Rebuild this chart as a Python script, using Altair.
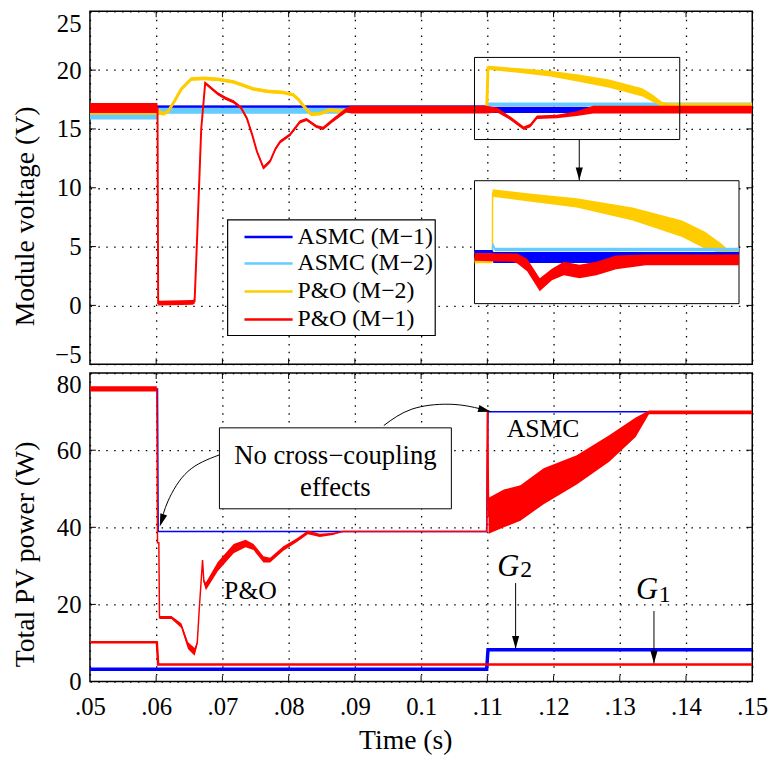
import altair as alt
import pandas as pd

FONT = "Liberation Serif"

# ---------------- axes ----------------
X_TICKS = [0.05, 0.06, 0.07, 0.08, 0.09, 0.10, 0.11, 0.12, 0.13, 0.14, 0.15]
X_LABELS = [".05", ".06", ".07", ".08", ".09", "0.1", ".11", ".12", ".13", ".14", ".15"]
V_TICKS = [-5, 0, 5, 10, 15, 20, 25]
P_TICKS = [0, 20, 40, 60, 80]

SERIES = ["ASMC (M−1)", "ASMC (M−2)", "P&O (M−2)", "P&O (M−1)"]
COLORS = ["#0000FF", "#66CCFF", "#FFCC00", "#FF0000"]

# ---------------- top panel: module voltage (time, centre, half-spread) ----------------
BLUE_T_X = [0.05, 0.1099, 0.1101, 0.15]
BLUE_T_M = [16.9, 16.9, 16.62, 16.62]
BLUE_T_H = [0.1, 0.1, 0.27, 0.27]

CYAN_T_X = [0.05, 0.0601, 0.0602, 0.088, 0.089, 0.1099, 0.1101, 0.15]
CYAN_T_M = [16.2, 16.2, 16.55, 16.55, 16.65, 16.65, 17.1, 17.1]
CYAN_T_H = [0.4, 0.4, 0.25, 0.25, 0.15, 0.15, 0.15, 0.15]

YEL_T_X = [0.05, 0.0602, 0.0612, 0.0618, 0.0628, 0.0638, 0.0653, 0.0673, 0.0695, 0.0717,
           0.0747, 0.0767, 0.0792, 0.0807, 0.0815, 0.0822, 0.0834, 0.0847, 0.0862, 0.088,
           0.1099, 0.1101, 0.1150, 0.1195, 0.1240, 0.1284, 0.1334, 0.1350, 0.1364, 0.1375, 0.15]
YEL_T_M = [16.45, 16.45, 16.3, 16.5, 17.4, 18.4, 19.25, 19.3, 19.2, 19.0,
           18.4, 18.2, 18.1, 17.9, 17.5, 17.0, 16.25, 16.3, 16.6, 16.5,
           16.5, 20.2, 19.95, 19.7, 19.3, 18.85, 18.1, 17.6, 17.1, 17.0, 17.0]
YEL_T_H = [0.25, 0.25, 0.15, 0.15, 0.15, 0.15, 0.15, 0.15, 0.15, 0.15,
           0.15, 0.15, 0.15, 0.15, 0.15, 0.15, 0.15, 0.15, 0.15, 0.15,
           0.15, 0.17, 0.2, 0.25, 0.3, 0.35, 0.35, 0.3, 0.2, 0.2, 0.2]

RED_T_X = [0.05, 0.0602, 0.0603, 0.0655, 0.0658, 0.0662, 0.0668, 0.0674, 0.0693, 0.0705,
           0.0717, 0.0728, 0.0737, 0.0745, 0.0752, 0.0762, 0.0772, 0.0780, 0.0787, 0.0802,
           0.0817, 0.0827, 0.0842, 0.0852, 0.0867, 0.0887, 0.0895, 0.1099, 0.1115, 0.1135,
           0.1155, 0.1165, 0.1175, 0.1205, 0.1235, 0.1260, 0.15]
RED_T_M = [16.78, 16.78, 0.2, 0.25, 0.35, 6.0, 15.0, 18.9, 18.0, 17.6,
           17.3, 16.8, 15.9, 14.5, 13.1, 11.7, 12.25, 13.3, 13.9, 14.5,
           15.6, 15.8, 15.2, 15.05, 15.75, 16.6, 16.65, 16.65, 16.6, 15.9,
           15.06, 15.3, 16.0, 16.05, 16.3, 16.65, 16.65]
RED_T_H = [0.42, 0.42, 0.2, 0.2, 0.2, 0.0, 0.0, 0.12, 0.13, 0.13,
           0.13, 0.13, 0.13, 0.13, 0.13, 0.15, 0.15, 0.13, 0.13, 0.13,
           0.13, 0.13, 0.13, 0.13, 0.15, 0.2, 0.33, 0.33, 0.2, 0.15,
           0.15, 0.15, 0.15, 0.15, 0.2, 0.33, 0.33]

# legend (top panel, data units)
LEG_BOX = {"t": [0.07079], "t2": [0.10213], "v": [-2.56], "v2": [7.27]}
LEG_ROW_V = [5.82, 3.57, 1.19, -1.19]
LEG_SYM_T = [0.07333, 0.0806]
LEG_TXT_T = 0.08134

# ---------------- inset (zoom of 0.108-0.139 s, 14-21 V) ----------------
INSET_DOM_T = [0.108, 0.139]
INSET_DOM_V = [14.0, 21.0]
INSET_BOX_T = [0.10806, 0.1480]    # where the inset sits, in main-panel units
INSET_BOX_V = [0.15, 10.6]
ZOOM_BOX_T = [0.10806, 0.13905]
ZOOM_BOX_V = [14.1, 21.08]
ZOOM_ARROW = {"t": [0.12388], "v": [14.1], "v2": [10.63]}

YEL_I_X = [0.108, 0.1101, 0.11012, 0.11417, 0.11997, 0.12653, 0.13233, 0.13503, 0.13696, 0.1377, 0.139]
YEL_I_M = [16.45, 16.45, 20.3, 20.06, 19.74, 19.1, 18.26, 17.61, 17.13, 16.96, 17.08]
YEL_I_H = [0.15, 0.15, 0.21, 0.23, 0.26, 0.37, 0.47, 0.48, 0.28, 0.12, 0.11]

CYAN_I_X = [0.108, 0.1101, 0.11015, 0.1104, 0.139]
CYAN_I_M = [16.95, 16.95, 17.4, 17.08, 17.08]
CYAN_I_H = [0.08, 0.08, 0.08, 0.1, 0.1]

BLUE_I_X = [0.108, 0.1101, 0.1102, 0.139]
BLUE_I_M = [16.95, 16.95, 16.63, 16.63]
BLUE_I_H = [0.1, 0.1, 0.31, 0.31]

RED_I_X = [0.108, 0.1125, 0.11302, 0.11417, 0.11565, 0.11707, 0.11847, 0.12031, 0.12228, 0.1246, 0.12808, 0.139]
RED_I_M = [16.66, 16.62, 16.57, 16.2, 15.07, 15.66, 16.0, 15.83, 16.0, 16.35, 16.49, 16.49]
RED_I_H = [0.22, 0.24, 0.28, 0.36, 0.37, 0.33, 0.39, 0.39, 0.39, 0.39, 0.31, 0.31]

# ---------------- bottom panel: total PV power ----------------
BLUE_B_X = [0.05, 0.0602, 0.0603, 0.1099, 0.1101, 0.15]
BLUE_B_M = [75.9, 75.9, 38.9, 38.9, 70.0, 70.0]

RED_B_X = [0.05, 0.0601, 0.0602, 0.0604, 0.0605, 0.0623, 0.0638, 0.0648, 0.0658, 0.0662,
           0.0665, 0.0670, 0.0672, 0.0675, 0.0693, 0.0717, 0.0735, 0.0747, 0.0762, 0.0772,
           0.0792, 0.0812, 0.0829, 0.0847, 0.0867, 0.0882, 0.1099, 0.1100, 0.11005, 0.1102,
           0.1125, 0.1150, 0.1185, 0.1235, 0.1284, 0.1324, 0.1344, 0.15]
RED_B_M = [75.9, 75.9, 36.0, 36.0, 16.6, 16.6, 14.5, 9.35, 7.7, 10.0,
           18.7, 31.5, 26.0, 24.7, 29.8, 34.5, 35.8, 34.9, 31.7, 31.5,
           34.5, 36.6, 38.7, 37.9, 38.3, 38.9, 38.9, 70.0, 70.0, 43.0,
           44.9, 46.3, 50.65, 54.9, 60.45, 65.95, 69.8, 69.8]
RED_B_H = [0.7, 0.7, 0.0, 0.0, 0.4, 0.4, 0.6, 0.9, 1.0, 0.5,
           0.0, 0.0, 0.5, 1.0, 1.2, 1.2, 1.0, 0.8, 0.8, 0.6,
           0.6, 0.5, 0.5, 0.4, 0.3, 0.0, 0.0, 0.0, 0.0, 4.7,
           4.9, 4.6, 4.65, 3.8, 3.45, 2.55, 0.5, 0.5]

G1_X = [0.05, 0.0601, 0.0603, 0.15]
G1_M = [10.2, 10.2, 4.4, 4.4]
G2_X = [0.05, 0.1099, 0.1101, 0.15]
G2_M = [3.2, 3.2, 8.25, 8.25]

NOTE_BOX = {"t": [0.06955], "t2": [0.10457], "p": [44.8], "p2": [65.8]}
NOTE_TEXT = {"t": [0.08706, 0.08706], "p": [58.6, 50.2], "txt": ["No cross−coupling", "effects"]}
ARROW1 = {"t": [0.06949, 0.06478, 0.06179, 0.06069], "p": [58.75, 54.48, 46.82, 40.87]}
ARROW2 = {"t": [0.09437, 0.0986, 0.10407, 0.10806, 0.11054], "p": [66.41, 70.65, 71.93, 71.09, 69.99]}
LABELS = {"t": [0.07424, 0.11841], "p": [23.4, 65.5], "txt": ["P&O", "ASMC"]}
G_LET = {"t": [0.11315, 0.13412], "p": [29.8, 23.83], "txt": ["G", "G"]}
G_SUB = {"t": [0.11587, 0.13679], "p": [28.94, 22.55], "txt": ["2", "1"]}
G_ARROWS = {"t": [0.11427, 0.13516], "p": [25.54, 18.29], "p2": [8.5, 4.67]}
HEADS_B = {"t": [0.06054, 0.11054, 0.11427, 0.13516], "p": [40.2, 69.99, 8.5, 4.67], "a": [18, 284.5, 0, 0]}
HEADS_T = {"t": [0.12388], "v": [10.63], "a": [0]}

ARROW_PATH = "M0,0L-0.5,-1.8L0.5,-1.8Z"
W = 670
H_TOP = 357
H_BOT = 312
TICK_LEN = 6


def frame(t, mid, half=None):
    half = half if half is not None else [0.0] * len(t)
    df = pd.DataFrame({"t": t, "mid": mid, "half": half})
    df["lo"] = df["mid"] - df["half"]
    df["hi"] = df["mid"] + df["half"]
    df["i"] = range(len(df))
    return df


def to_inset(df):
    kt = (INSET_BOX_T[1] - INSET_BOX_T[0]) / (INSET_DOM_T[1] - INSET_DOM_T[0])
    kv = (INSET_BOX_V[1] - INSET_BOX_V[0]) / (INSET_DOM_V[1] - INSET_DOM_V[0])
    out = df.copy()
    out["t"] = INSET_BOX_T[0] + (df["t"] - INSET_DOM_T[0]) * kt
    for c in ["mid", "lo", "hi"]:
        out[c] = INSET_BOX_V[0] + (df[c] - INSET_DOM_V[0]) * kv
    return out


XS = alt.Scale(domain=[0.05, 0.15], nice=False, zero=False)
VS = alt.Scale(domain=[-5, 25], nice=False, zero=False)
PS = alt.Scale(domain=[0, 80], nice=False, zero=False)

label_expr = "[" + ",".join("'%s'" % s for s in X_LABELS) + "][round((datum.value - 0.05) * 100)]"

AX_TOP_X = alt.Axis(values=X_TICKS, labels=False, ticks=False, domain=False, grid=True, title=None)
AX_BOT_X = alt.Axis(values=X_TICKS, labelExpr=label_expr, ticks=False, domain=False, grid=True,
                    labelFlush=False, title="Time (s)", titleX=319, titleY=46, labelPadding=13)
AX_TOP_Y = alt.Axis(
    values=V_TICKS, labelFlush=False, ticks=False, domain=False, grid=True,
    labelBaseline={"condition": {"test": "datum.value == %d" % V_TICKS[-1], "value": "top"}, "value": "middle"},
    labelOffset={"condition": {"test": "datum.value == %d" % V_TICKS[0], "value": -10}, "value": 0},
    title="Module voltage (V)", titleX=-51, titleY=207, labelPadding=9)
AX_BOT_Y = alt.Axis(
    values=P_TICKS, labelFlush=False, ticks=False, domain=False, grid=True,
    labelBaseline={"condition": {"test": "datum.value == %d" % P_TICKS[-1], "value": "top"}, "value": "middle"},
    title="Total PV power (W)", titleX=-51, titleY=183, labelPadding=9)


def xt(f="t"):
    return alt.X(f + ":Q", scale=XS, axis=AX_TOP_X)


def yt(f):
    return alt.Y(f + ":Q", scale=VS, axis=AX_TOP_Y)


def xb(f="t"):
    return alt.X(f + ":Q", scale=XS, axis=AX_BOT_X)


def yb(f):
    return alt.Y(f + ":Q", scale=PS, axis=AX_BOT_Y)


def band(df, color, xenc, yenc):
    return alt.Chart(df).mark_area(color=color, opacity=1, clip=True, orient="vertical",
                                   interpolate="linear").encode(
        x=xenc("t"), y=yenc("lo"), y2=alt.Y2("hi"))


def line(df, color, lw, xenc, yenc):
    return alt.Chart(df).mark_line(strokeWidth=lw, clip=True, opacity=1, color=color).encode(
        x=xenc("t"), y=yenc("mid"), order="i:Q")


def edge_ticks(xenc, yenc, yvals, h):
    xdf = pd.DataFrame({"t": X_TICKS[1:-1]})
    ydf = pd.DataFrame({"v": yvals[1:-1]})
    rule = dict(color="black", strokeWidth=1)
    return [
        alt.Chart(xdf).mark_rule(**rule).encode(x=xenc("t"), y=alt.value(0), y2=alt.value(TICK_LEN)),
        alt.Chart(xdf).mark_rule(**rule).encode(x=xenc("t"), y=alt.value(h), y2=alt.value(h - TICK_LEN)),
        alt.Chart(ydf).mark_rule(**rule).encode(y=yenc("v"), x=alt.value(0), x2=alt.value(TICK_LEN)),
        alt.Chart(ydf).mark_rule(**rule).encode(y=yenc("v"), x=alt.value(W), x2=alt.value(W - TICK_LEN)),
    ]


# ---------- top panel ----------
top_layers = []
top_specs = [
    (CYAN_T_X, CYAN_T_M, CYAN_T_H, COLORS[1], 1.5),
    (BLUE_T_X, BLUE_T_M, BLUE_T_H, COLORS[0], 1.5),
    (YEL_T_X, YEL_T_M, YEL_T_H, COLORS[2], 3.0),
    (RED_T_X, RED_T_M, RED_T_H, COLORS[3], 2.0),
]
for tx, tm, th, col, lw in top_specs:
    df = frame(tx, tm, th)
    top_layers.append(band(df, col, xt, yt))
    top_layers.append(line(df, col, lw, xt, yt))

top_layers += edge_ticks(xt, yt, V_TICKS, H_TOP)

zoom_box = alt.Chart(pd.DataFrame({"t": [ZOOM_BOX_T[0]], "t2": [ZOOM_BOX_T[1]],
                                   "v": [ZOOM_BOX_V[0]], "v2": [ZOOM_BOX_V[1]]})).mark_rect(
    fill=None, stroke="black", strokeWidth=1).encode(x=xt("t"), x2="t2", y=yt("v"), y2="v2")
zoom_arrow = alt.Chart(pd.DataFrame(ZOOM_ARROW)).mark_rule(color="black", strokeWidth=1).encode(
    x=xt("t"), y=yt("v"), y2="v2")
zoom_head = alt.Chart(pd.DataFrame(HEADS_T)).mark_point(
    shape=ARROW_PATH, filled=True, size=208, color="black", opacity=1, strokeWidth=0).encode(
    x=xt("t"), y=yt("v"), angle=alt.Angle("a:Q", scale=None))
inset_box = alt.Chart(pd.DataFrame({"t": [INSET_BOX_T[0]], "t2": [INSET_BOX_T[1]],
                                    "v": [INSET_BOX_V[0]], "v2": [INSET_BOX_V[1]]})).mark_rect(
    fill="white", stroke="black", strokeWidth=1).encode(x=xt("t"), x2="t2", y=yt("v"), y2="v2")
top_layers += [zoom_box, zoom_arrow, zoom_head, inset_box]

inset_specs = [
    (YEL_I_X, YEL_I_M, YEL_I_H, COLORS[2], 1.5),
    (CYAN_I_X, CYAN_I_M, CYAN_I_H, COLORS[1], 1.5),
    (BLUE_I_X, BLUE_I_M, BLUE_I_H, COLORS[0], 1.5),
    (RED_I_X, RED_I_M, RED_I_H, COLORS[3], 1.5),
]
for tx, tm, th, col, lw in inset_specs:
    df = to_inset(frame(tx, tm, th))
    top_layers.append(band(df, col, xt, yt))
    top_layers.append(line(df, col, lw, xt, yt))

# legend drawn from the series list
leg_df = pd.DataFrame({"s": SERIES, "v": LEG_ROW_V, "t": [LEG_SYM_T[0]] * 4,
                       "t2": [LEG_SYM_T[1]] * 4, "tt": [LEG_TXT_T] * 4})
leg_box = alt.Chart(pd.DataFrame(LEG_BOX)).mark_rect(
    fill="white", stroke="black", strokeWidth=1.2).encode(x=xt("t"), x2="t2", y=yt("v"), y2="v2")
leg_sym = alt.Chart(leg_df).mark_rule(strokeWidth=2.5).encode(
    x=xt("t"), x2="t2", y=yt("v"),
    color=alt.Color("s:N", scale=alt.Scale(domain=SERIES, range=COLORS), legend=None))
leg_txt = alt.Chart(leg_df).mark_text(
    font=FONT, fontSize=24, color="black", align="left", baseline="middle").encode(
    x=xt("tt"), y=yt("v"), text="s:N")
top_layers += [leg_box, leg_sym, leg_txt]

top = alt.layer(*top_layers).properties(width=W, height=H_TOP)

# ---------- bottom panel ----------
bot_layers = []
dfb = frame(BLUE_B_X, BLUE_B_M)
bot_layers.append(line(dfb, COLORS[0], 1.5, xb, yb))
dfr = frame(RED_B_X, RED_B_M, RED_B_H)
bot_layers.append(band(dfr, COLORS[3], xb, yb))
bot_layers.append(line(dfr, COLORS[3], 1.5, xb, yb))
bot_layers.append(line(frame(G2_X, G2_M), COLORS[0], 3.5, xb, yb))
bot_layers.append(line(frame(G1_X, G1_M), COLORS[3], 2.5, xb, yb))
bot_layers += edge_ticks(xb, yb, P_TICKS, H_BOT)

note_box = alt.Chart(pd.DataFrame(NOTE_BOX)).mark_rect(
    fill="white", stroke="black", strokeWidth=1).encode(x=xb("t"), x2="t2", y=yb("p"), y2="p2")
note_txt = alt.Chart(pd.DataFrame(NOTE_TEXT)).mark_text(
    font=FONT, fontSize=27, color="black", align="center", baseline="middle").encode(
    x=xb("t"), y=yb("p"), text="txt:N")
arr1 = alt.Chart(frame(ARROW1["t"], ARROW1["p"])).mark_line(
    color="black", strokeWidth=1, interpolate="natural").encode(x=xb("t"), y=yb("mid"), order="i:Q")
arr2 = alt.Chart(frame(ARROW2["t"], ARROW2["p"])).mark_line(
    color="black", strokeWidth=1, interpolate="natural").encode(x=xb("t"), y=yb("mid"), order="i:Q")
labels = alt.Chart(pd.DataFrame(LABELS)).mark_text(
    font=FONT, fontSize=26, color="black", align="center", baseline="middle").encode(
    x=xb("t"), y=yb("p"), text="txt:N")
g_let = alt.Chart(pd.DataFrame(G_LET)).mark_text(
    font=FONT, fontSize=31, fontStyle="italic", color="black", align="center", baseline="middle").encode(
    x=xb("t"), y=yb("p"), text="txt:N")
g_sub = alt.Chart(pd.DataFrame(G_SUB)).mark_text(
    font=FONT, fontSize=24, color="black", align="center", baseline="middle").encode(
    x=xb("t"), y=yb("p"), text="txt:N")
g_arr = alt.Chart(pd.DataFrame(G_ARROWS)).mark_rule(color="black", strokeWidth=1).encode(
    x=xb("t"), y=yb("p"), y2="p2")
heads = alt.Chart(pd.DataFrame(HEADS_B)).mark_point(
    shape=ARROW_PATH, filled=True, size=208, color="black", opacity=1, strokeWidth=0).encode(
    x=xb("t"), y=yb("p"), angle=alt.Angle("a:Q", scale=None))
bot_layers += [note_box, note_txt, arr1, arr2, labels, g_let, g_sub, g_arr, heads]

bottom = alt.layer(*bot_layers).properties(width=W, height=H_BOT)

chart = alt.vconcat(top, bottom, spacing=9, bounds="flush").properties(
    padding={"left": 11, "top": 5, "right": 5, "bottom": 5},
    background="white",
).configure_view(
    stroke="black", strokeWidth=1.5
).configure_axis(
    labelFont=FONT, labelFontSize=25, labelColor="black",
    titleFont=FONT, titleFontSize=28, titleFontWeight="normal", titleColor="black",
    gridColor="black", gridDash=[1.5, 6.5], gridWidth=1.3, gridOpacity=1,
)

chart.save("out.html", embed_options={"renderer": "svg", "actions": False})
